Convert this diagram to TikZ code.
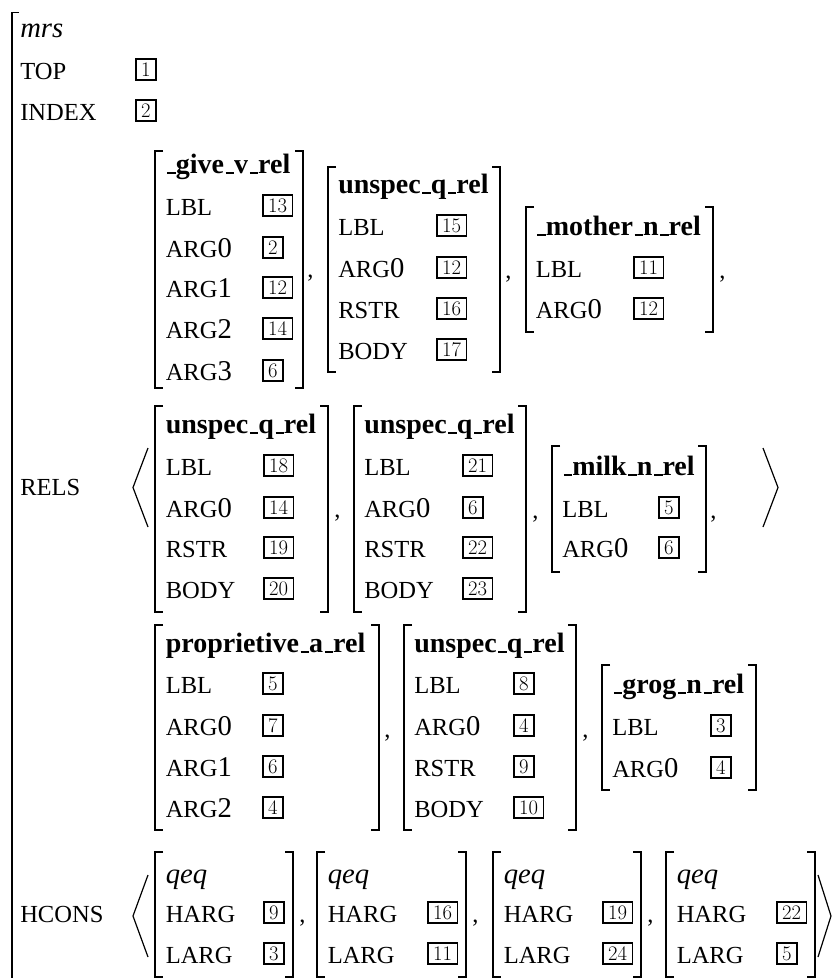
\documentclass[tikz,border=0pt]{standalone}
\usepackage{fontspec}
\newfontfamily\tnr{Liberation Serif}
\newcommand\us{\kern.06em\rule[-.03em]{.3em}{.065em}}
\newcommand\dg[1]{{\fontsize{21.5}{21.5}\selectfont #1}}
\tikzset{
  brkline/.style={line width=0.9pt},
  outerline/.style={line width=1.1pt},
  lab/.style={anchor=base west, inner sep=0pt, font=\tnr\fontsize{18.4}{20}\selectfont},
  ital/.style={anchor=base west, inner sep=0pt, font=\tnr\itshape\fontsize{21.5}{22}\selectfont},
  ttl/.style={anchor=base west, inner sep=0pt, font=\tnr\bfseries\fontsize{21}{22}\selectfont},
  tag/.style={draw, line width=1.35pt, anchor=south west, inner xsep=4pt, inner ysep=0pt,
    minimum height=15.75pt, minimum width=15pt, font=\fontsize{15.5}{15.5}\selectfont}
}
\newcommand\avmbrk[4]{%
  \draw[brkline] (#1+8,#3) -- (#1,#3) -- (#1,#4) -- (#1+8,#4);
  \draw[brkline] (#2-8,#3) -- (#2,#3) -- (#2,#4) -- (#2-8,#4);}
\newcommand\avmfeat[6]{%
  \node[lab] (#1l) at (#2,#3) {#4};
  \node[tag] (#1v) at (#5,#3+2) {#6};}
\begin{document}
\begin{tikzpicture}[x=0.75pt,y=-0.75pt]
\useasboundingbox (0,0) rectangle (833,978);
% outer structure
\draw[outerline] (19,12.5) -- (12,12.5) -- (12,990);
\node[ital] (mrs) at (20,37) {mrs};
\node[lab] (top) at (20,79) {TOP};
\node[tag] (topv) at (135,81) {1};
\node[lab] (index) at (20,120) {INDEX};
\node[tag] (indexv) at (135,122) {2};
\node[lab] (rels) at (20,495) {RELS};
\draw[brkline] (148,448) -- (133,487.5) -- (148,527);
\draw[brkline] (763,448) -- (778,487.5) -- (763,527);
\node[lab] (hcons) at (20,922) {HCONS};
\draw[brkline] (148,875) -- (133,916) -- (148,957);
\draw[brkline] (818,875) -- (831,916) -- (818,957);

% ---- RELS row 1 ----
\avmbrk{155}{303}{151}{388}
\node[ttl] (give) at (165.5,173) {\us give\us v\us rel};
\avmfeat{giveA}{165.5}{215}{LBL}{262}{13}
\avmfeat{giveB}{165.5}{257}{ARG\dg0}{262}{2}
\avmfeat{giveC}{165.5}{297}{ARG\dg1}{262}{12}
\avmfeat{giveD}{165.5}{338}{ARG\dg2}{262}{14}
\avmfeat{giveE}{165.5}{380}{ARG\dg3}{262}{6}
\node[lab] (cm1) at (307,277) {,};

\avmbrk{328}{500}{167}{372}
\node[ttl] (uq1) at (338,193) {unspec\us q\us rel};
\avmfeat{uqA}{338}{235}{LBL}{436}{15}
\avmfeat{uqB}{338}{277}{ARG\dg0}{436}{12}
\avmfeat{uqC}{338}{318}{RSTR}{436}{16}
\avmfeat{uqD}{338}{359}{BODY}{436}{17}
\node[lab] (cm2) at (505,278) {,};

\avmbrk{526}{713}{207}{332}
\node[ttl] (mother) at (535.5,235) {\us mother\us n\us rel};
\avmfeat{moA}{535.5}{277}{LBL}{633}{11}
\avmfeat{moB}{535.5}{318}{ARG\dg0}{633}{12}
\node[lab] (cm3) at (719,278) {,};

% ---- RELS row 2 ----
\avmbrk{155}{328}{406}{612}
\node[ttl] (uq2) at (165.5,433) {unspec\us q\us rel};
\avmfeat{ubA}{165.5}{475}{LBL}{263}{18}
\avmfeat{ubB}{165.5}{517}{ARG\dg0}{263}{14}
\avmfeat{ubC}{165.5}{557}{RSTR}{263}{19}
\avmfeat{ubD}{165.5}{598}{BODY}{263}{20}
\node[lab] (cm4) at (334,517) {,};

\avmbrk{354}{526}{406}{612}
\node[ttl] (uq3) at (364,433) {unspec\us q\us rel};
\avmfeat{ucA}{364}{475}{LBL}{462}{21}
\avmfeat{ucB}{364}{517}{ARG\dg0}{462}{6}
\avmfeat{ucC}{364}{557}{RSTR}{462}{22}
\avmfeat{ucD}{364}{598}{BODY}{462}{23}
\node[lab] (cm5) at (532,518) {,};

\avmbrk{552}{706}{446}{572}
\node[ttl] (milk) at (562,475) {\us milk\us n\us rel};
\avmfeat{miA}{562}{517}{LBL}{658}{5}
\avmfeat{miB}{562}{557}{ARG\dg0}{658}{6}
\node[lab] (cm6) at (710,518) {,};

% ---- RELS row 3 ----
\avmbrk{155}{379}{625}{830}
\node[ttl] (prop) at (165.5,652) {proprietive\us a\us rel};
\avmfeat{prA}{165.5}{693}{LBL}{262}{5}
\avmfeat{prB}{165.5}{735}{ARG\dg0}{262}{7}
\avmfeat{prC}{165.5}{776}{ARG\dg1}{262}{6}
\avmfeat{prD}{165.5}{817}{ARG\dg2}{262}{4}
\node[lab] (cm7) at (384,737) {,};

\avmbrk{404}{576}{625}{830}
\node[ttl] (uq4) at (414,652) {unspec\us q\us rel};
\avmfeat{udA}{414}{693}{LBL}{513}{8}
\avmfeat{udB}{414}{735}{ARG\dg0}{513}{4}
\avmfeat{udC}{414}{776}{RSTR}{513}{9}
\avmfeat{udD}{414}{817}{BODY}{513}{10}
\node[lab] (cm8) at (582,737) {,};

\avmbrk{602}{756}{665}{790}
\node[ttl] (grog) at (612,693) {\us grog\us n\us rel};
\avmfeat{grA}{612}{735}{LBL}{710}{3}
\avmfeat{grB}{612}{777}{ARG\dg0}{710}{4}

% ---- HCONS ----
\avmbrk{155}{293}{852}{977}
\node[ital] (qeq1) at (165.5,883) {qeq};
\avmfeat{qaA}{165.5}{922}{HARG}{263}{9}
\avmfeat{qaB}{165.5}{963}{LARG}{263}{3}
\node[lab] (cm9) at (299,922) {,};

\avmbrk{317}{466}{852}{977}
\node[ital] (qeq2) at (327.5,883) {qeq};
\avmfeat{qbA}{327.5}{922}{HARG}{427}{16}
\avmfeat{qbB}{327.5}{963}{LARG}{427}{11}
\node[lab] (cm10) at (472,922) {,};

\avmbrk{493}{641}{852}{977}
\node[ital] (qeq3) at (503.5,883) {qeq};
\avmfeat{qcA}{503.5}{922}{HARG}{602}{19}
\avmfeat{qcB}{503.5}{963}{LARG}{602}{24}
\node[lab] (cm11) at (647,922) {,};

\avmbrk{666}{815}{852}{977}
\node[ital] (qeq4) at (676.5,883) {qeq};
\avmfeat{qdA}{676.5}{922}{HARG}{776}{22}
\avmfeat{qdB}{676.5}{963}{LARG}{776}{5}
\end{tikzpicture}
\end{document}
